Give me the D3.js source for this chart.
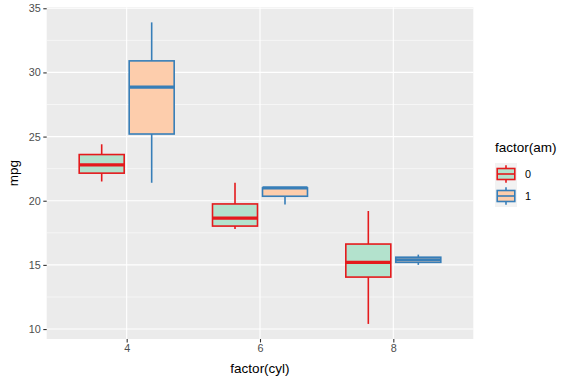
<!DOCTYPE html>
<html>
<head>
<meta charset="utf-8">
<script src="https://cdn.jsdelivr.net/npm/d3@7"></script>
<style>
  body { margin: 0; background: #fff; }
  svg { font-family: "Liberation Sans", Arial, sans-serif; }
</style>
</head>
<body>
<div id="chart"></div>
<script>
var cyls = ["4", "6", "8"],
    ams = ["0", "1"];

// five-number summaries (lower whisker, q1, median, q3, upper whisker) per cyl, for am = 0 and am = 1
var am0Stats = [
    [21.5, 22.15, 22.8, 23.6, 24.4],
    [17.8, 18.025, 18.65, 19.75, 21.4],
    [10.4, 14.05, 15.2, 16.625, 19.2]
];
var am1Stats = [
    [21.4, 25.2, 28.85, 30.9, 33.9],
    [19.7, 20.35, 21.0, 21.0, 21.0],
    [15.0, 15.2, 15.4, 15.6, 15.8]
];
var yTicks = [10, 15, 20, 25, 30, 35];

var fills = { "0": "#B3E2CD", "1": "#FDCDAC" },
    strokes = { "0": "#E41A1C", "1": "#377EB8" };

var width = 576,
    height = 384,
    panel = { left: 46.7, right: 473.3, top: 7.3, bottom: 339 };

var svg = d3.select("#chart")
    .append("svg")
    .attr("width", width)
    .attr("height", height);

var x = d3.scalePoint()
    .domain(cyls)
    .range([panel.left, panel.right])
    .padding(0.6);
var step = x.step();

var y = d3.scaleLinear()
    .domain([9.225, 35.075])
    .range([panel.bottom, panel.top]);

svg.append("rect")
    .attr("x", panel.left)
    .attr("y", panel.top)
    .attr("width", panel.right - panel.left)
    .attr("height", panel.bottom - panel.top)
    .attr("fill", "#EBEBEB");

// minor grid
var minor = d3.range(12.5, 35, 5);
svg.selectAll(".minor")
    .data(minor)
    .enter()
    .append("line")
    .attr("x1", panel.left)
    .attr("x2", panel.right)
    .attr("y1", function(d) { return y(d); })
    .attr("y2", function(d) { return y(d); })
    .attr("stroke", "#fff")
    .attr("stroke-width", 0.55);

svg.selectAll(".majory")
    .data(yTicks)
    .enter()
    .append("line")
    .attr("x1", panel.left)
    .attr("x2", panel.right)
    .attr("y1", function(d) { return y(d); })
    .attr("y2", function(d) { return y(d); })
    .attr("stroke", "#fff")
    .attr("stroke-width", 1.1);

svg.selectAll(".majorx")
    .data(cyls)
    .enter()
    .append("line")
    .attr("x1", function(d) { return x(d); })
    .attr("x2", function(d) { return x(d); })
    .attr("y1", panel.top)
    .attr("y2", panel.bottom)
    .attr("stroke", "#fff")
    .attr("stroke-width", 1.1);

// boxes
var boxW = 0.3375 * step,
    offset = 0.1875 * step;

var groups = [];
cyls.forEach(function(c, i) {
    groups.push({ cyl: c, am: "0", s: am0Stats[i] });
    groups.push({ cyl: c, am: "1", s: am1Stats[i] });
});

var box = svg.selectAll(".box")
    .data(groups)
    .enter()
    .append("g")
    .attr("transform", function(d) {
        return "translate(" + (x(d.cyl) + (d.am == "0" ? -offset : offset)) + ",0)";
    });

box.append("line")
    .attr("y1", function(d) { return y(d.s[3]); })
    .attr("y2", function(d) { return y(d.s[4]); })
    .attr("stroke", function(d) { return strokes[d.am]; })
    .attr("stroke-width", 1.6);
box.append("line")
    .attr("y1", function(d) { return y(d.s[1]); })
    .attr("y2", function(d) { return y(d.s[0]); })
    .attr("stroke", function(d) { return strokes[d.am]; })
    .attr("stroke-width", 1.6);
box.append("rect")
    .attr("x", -boxW / 2)
    .attr("width", boxW)
    .attr("y", function(d) { return y(d.s[3]); })
    .attr("height", function(d) { return y(d.s[1]) - y(d.s[3]); })
    .attr("fill", function(d) { return fills[d.am]; })
    .attr("stroke", function(d) { return strokes[d.am]; })
    .attr("stroke-width", 1.6);
box.append("line")
    .attr("x1", -boxW / 2)
    .attr("x2", boxW / 2)
    .attr("y1", function(d) { return y(d.s[2]); })
    .attr("y2", function(d) { return y(d.s[2]); })
    .attr("stroke", function(d) { return strokes[d.am]; })
    .attr("stroke-width", 3.2);

// axes
var yAxis = svg.append("g")
    .attr("transform", "translate(" + panel.left + ",0)")
    .call(d3.axisLeft(y).tickValues(yTicks).tickSize(3.4).tickPadding(2.5));
var xAxis = svg.append("g")
    .attr("transform", "translate(0," + panel.bottom + ")")
    .call(d3.axisBottom(x).tickSize(3.4).tickPadding(2.2));

[xAxis, yAxis].forEach(function(a) {
    a.select(".domain").remove();
    a.selectAll(".tick line").attr("stroke", "#333").attr("stroke-width", 1.1);
    a.selectAll(".tick text")
        .attr("fill", "#4D4D4D")
        .style("font-size", "10.8px");
});

svg.append("text")
    .attr("x", (panel.left + panel.right) / 2)
    .attr("y", 373)
    .attr("text-anchor", "middle")
    .style("font-size", "13.5px")
    .text("factor(cyl)");

svg.append("text")
    .attr("transform", "translate(18," + (panel.top + panel.bottom) / 2 + ") rotate(-90)")
    .attr("text-anchor", "middle")
    .style("font-size", "13.5px")
    .text("mpg");

// legend
var legend = svg.append("g").attr("transform", "translate(495,163)");
legend.append("text")
    .attr("x", 0)
    .attr("y", -11)
    .style("font-size", "13.5px")
    .text("factor(am)");

var key = 22;
var item = legend.selectAll(".key")
    .data(ams)
    .enter()
    .append("g")
    .attr("transform", function(d, i) { return "translate(0," + (i * key) + ")"; });

item.append("rect")
    .attr("width", key)
    .attr("height", key)
    .attr("fill", "#F2F2F2");
item.append("line")
    .attr("x1", key / 2).attr("x2", key / 2)
    .attr("y1", key * 0.1).attr("y2", key * 0.9)
    .attr("stroke", function(d) { return strokes[d]; })
    .attr("stroke-width", 1.6);
item.append("rect")
    .attr("x", key * 0.1)
    .attr("y", key * 0.25)
    .attr("width", key * 0.8)
    .attr("height", key * 0.5)
    .attr("fill", function(d) { return fills[d]; })
    .attr("stroke", function(d) { return strokes[d]; })
    .attr("stroke-width", 1.6);
item.append("line")
    .attr("x1", key * 0.1).attr("x2", key * 0.9)
    .attr("y1", key / 2).attr("y2", key / 2)
    .attr("stroke", function(d) { return strokes[d]; })
    .attr("stroke-width", 1.6);
item.append("text")
    .attr("x", key + 8)
    .attr("y", key / 2)
    .attr("dy", "0.35em")
    .attr("fill", "#000")
    .style("font-size", "10.8px")
    .text(function(d) { return d; });
</script>
</body>
</html>
